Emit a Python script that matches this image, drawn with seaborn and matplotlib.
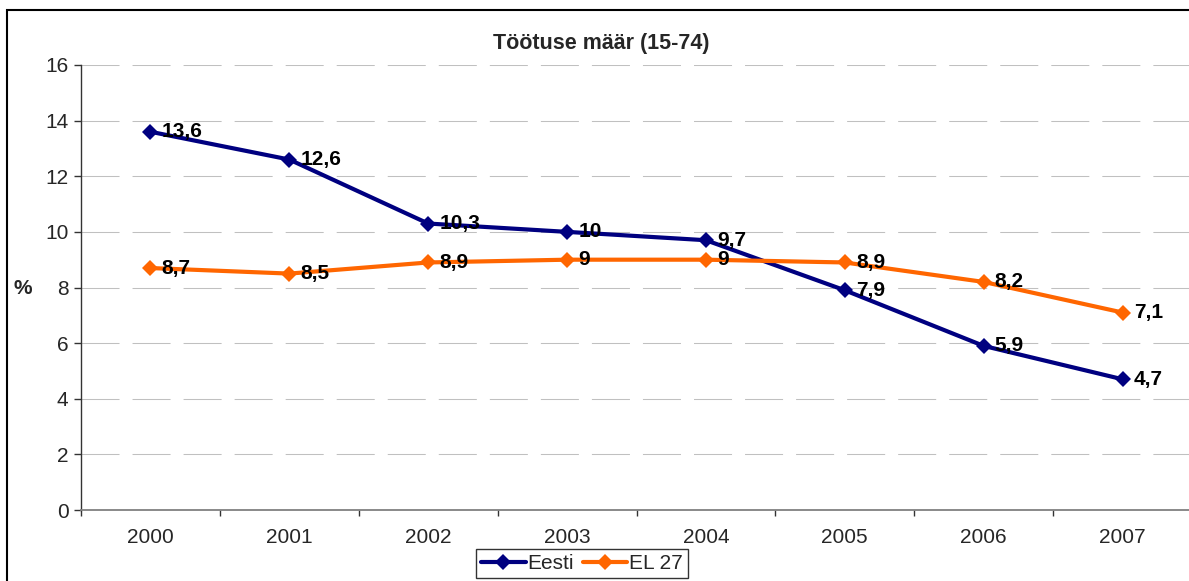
import numpy as np
import pandas as pd
import matplotlib
matplotlib.use("Agg")
import matplotlib.pyplot as plt
import seaborn as sns
from matplotlib.patches import Rectangle
from matplotlib.ticker import FixedLocator

years = ["2000", "2001", "2002", "2003", "2004", "2005", "2006", "2007"]
eesti = [13.6, 12.6, 10.3, 10.0, 9.7, 7.9, 5.9, 4.7]
el27 = [8.7, 8.5, 8.9, 9.0, 9.0, 8.9, 8.2, 7.1]
series_names = ["Eesti", "EL 27"]
colors = ["#000080", "#FF6600"]

df = pd.DataFrame({"aasta": years * 2,
                   "maar": eesti + el27,
                   "seeria": [series_names[0]] * len(years) + [series_names[1]] * len(years)})
df["x"] = df["aasta"].map({y: i for i, y in enumerate(years)})

sns.set_theme(style="white")
plt.rcParams["font.family"] = ["Liberation Sans", "DejaVu Sans"]
FS = 15

fig = plt.figure(figsize=(11.89, 5.81), dpi=100)
ax = fig.add_axes([81 / 1189, 1 - 510 / 581, 1111 / 1189, 445 / 581])

sns.lineplot(data=df, x="x", y="maar", hue="seeria", palette=colors, marker="D",
             markersize=8.5, markeredgewidth=0, linewidth=3, ax=ax, legend=True)

def fmt(v):
    s = f"{v:g}"
    return s.replace(".", ",")

for vals in (eesti, el27):
    for i, v in enumerate(vals):
        ax.annotate(fmt(v), (i, v), xytext=(8, 0), textcoords="offset points",
                    ha="left", va="center", fontsize=FS, fontweight="bold", color="black")

ax.set_xlim(-0.5, 7.5)
ax.set_ylim(0, 16)
ax.set_xticks(range(len(years)))
ax.set_xticklabels(years)
ax.set_yticks(np.arange(0, 17, 2))
ax.xaxis.set_minor_locator(FixedLocator(np.arange(-0.5, 8, 1)))
ax.tick_params(axis="x", which="major", length=0, pad=13, labelsize=FS)
ax.tick_params(axis="x", which="minor", length=4, width=1, color="#333333", bottom=True)
ax.tick_params(axis="y", which="major", length=5, width=1, color="#333333", left=True,
               pad=4, labelsize=FS)
ax.grid(axis="y", color="#c0c0c0", linewidth=0.75, linestyle=(0, (36.5, 12.5)))
ax.grid(axis="x", visible=False)
ax.set_axisbelow(True)
for s in ["top", "right"]:
    ax.spines[s].set_visible(False)
ax.spines["left"].set_color("#333333")
ax.spines["bottom"].set_color("#808080")
ax.spines["left"].set_linewidth(1)
ax.spines["bottom"].set_linewidth(1.3)

ax.set_xlabel("")
ax.set_ylabel("%", rotation=0, fontsize=FS, fontweight="bold", labelpad=0, va="center")
ax.yaxis.set_label_coords(-0.052, 0.497)
fig.text(601 / 1189, 1 - 44 / 581, "Töötuse määr (15-74)", ha="center", va="center",
         fontsize=15.5, fontweight="bold")

handles, labels = ax.get_legend_handles_labels()
ax.get_legend().remove()
leg = fig.legend(handles, labels, loc="upper center", bbox_to_anchor=(582 / 1189, 1 - 549 / 581),
                 ncol=2, frameon=True, fancybox=False, edgecolor="black", fontsize=FS,
                 handlelength=2.15, handletextpad=0.1, columnspacing=0.4, borderpad=0.25,
                 borderaxespad=0)
leg.get_frame().set_linewidth(1)

fig.patches.append(Rectangle((7 / 1189, -0.1), 1.2, 1.1 - 10 / 581, transform=fig.transFigure,
                             fill=False, edgecolor="black", linewidth=1.5, zorder=0))

fig.savefig("out.png", dpi=100)
